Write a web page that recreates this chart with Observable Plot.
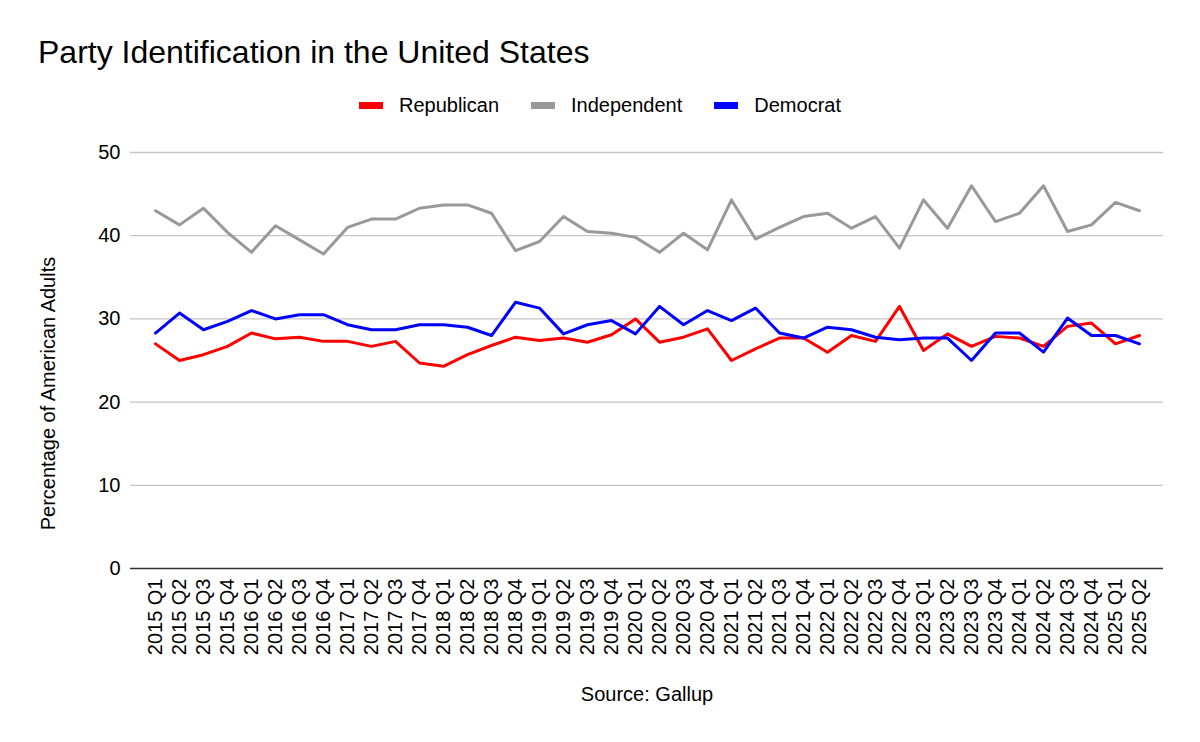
<!DOCTYPE html>
<html>
<head>
<meta charset="utf-8">
<script src="https://cdn.jsdelivr.net/npm/d3@7"></script>
<script src="https://cdn.jsdelivr.net/npm/@observablehq/plot@0.6"></script>
<style>
  body { margin: 0; background: #fff; font-family: "Liberation Sans", Arial, sans-serif; }
  #wrap { position: relative; width: 1200px; height: 742px; overflow: hidden; }
  #title { position: absolute; left: 38px; top: 36px; font-size: 32px; line-height: 32px; color: #000; white-space: nowrap; }
  #legend { position: absolute; left: 0; width: 1200px; top: 95px; display: flex; justify-content: center; font-size: 20px; line-height: 20px; color: #000; }
  .item { display: flex; align-items: center; margin: 0 16px; }
  .sw { width: 24px; height: 7px; margin-right: 16px; }
  #chart { position: absolute; left: 0; top: 130px; }
</style>
</head>
<body>
<div id="wrap">
  <div id="title">Party Identification in the United States</div>
  <div id="legend"></div>
  <div id="chart"></div>
</div>
<script>
const quarters = [
  "2015 Q1","2015 Q2","2015 Q3","2015 Q4",
  "2016 Q1","2016 Q2","2016 Q3","2016 Q4",
  "2017 Q1","2017 Q2","2017 Q3","2017 Q4",
  "2018 Q1","2018 Q2","2018 Q3","2018 Q4",
  "2019 Q1","2019 Q2","2019 Q3","2019 Q4",
  "2020 Q1","2020 Q2","2020 Q3","2020 Q4",
  "2021 Q1","2021 Q2","2021 Q3","2021 Q4",
  "2022 Q1","2022 Q2","2022 Q3","2022 Q4",
  "2023 Q1","2023 Q2","2023 Q3","2023 Q4",
  "2024 Q1","2024 Q2","2024 Q3","2024 Q4",
  "2025 Q1","2025 Q2"
];

const republican = [
  27.0, 25.0, 25.7, 26.7,
  28.3, 27.6, 27.8, 27.3,
  27.3, 26.7, 27.3, 24.7,
  24.3, 25.7, 26.8, 27.8,
  27.4, 27.7, 27.2, 28.1,
  30.0, 27.2, 27.8, 28.8,
  25.0, 26.4, 27.7, 27.7,
  26.0, 28.0, 27.3, 31.5,
  26.2, 28.2, 26.7, 27.9,
  27.7, 26.7, 29.1, 29.5,
  27.0, 28.0
];

const independent = [
  43.0, 41.3, 43.3, 40.4,
  38.0, 41.2, 39.5, 37.8,
  41.0, 42.0, 42.0, 43.3,
  43.7, 43.7, 42.7, 38.2,
  39.3, 42.3, 40.5, 40.3,
  39.8, 38.0, 40.3, 38.3,
  44.3, 39.6, 41.0, 42.3,
  42.7, 40.9, 42.3, 38.5,
  44.3, 40.9, 46.0, 41.7,
  42.7, 46.0, 40.5, 41.3,
  44.0, 43.0
];

const democrat = [
  28.3, 30.7, 28.7, 29.7,
  31.0, 30.0, 30.5, 30.5,
  29.3, 28.7, 28.7, 29.3,
  29.3, 29.0, 28.0, 32.0,
  31.3, 28.2, 29.3, 29.8,
  28.2, 31.5, 29.3, 31.0,
  29.8, 31.3, 28.3, 27.7,
  29.0, 28.7, 27.8, 27.5,
  27.7, 27.7, 25.0, 28.3,
  28.3, 26.0, 30.1, 28.0,
  28.0, 27.0
];

const parties = ["Republican", "Independent", "Democrat"];
const partyColors = ["#ff0000", "#999999", "#0000ff"];
const yTicks = [0, 10, 20, 30, 40, 50];
const yLabel = "Percentage of American Adults";
const xLabel = "Source: Gallup";

const seriesValues = [republican, independent, democrat];
const rows = [];
parties.forEach((p, k) => {
  quarters.forEach((q, i) => rows.push({quarter: q, party: p, value: seriesValues[k][i]}));
});

// legend
const legend = document.getElementById("legend");
parties.forEach((p, k) => {
  const item = document.createElement("div");
  item.className = "item";
  const sw = document.createElement("div");
  sw.className = "sw";
  sw.style.background = partyColors[k];
  const t = document.createElement("span");
  t.textContent = p;
  item.appendChild(sw);
  item.appendChild(t);
  legend.appendChild(item);
});

const chart = Plot.plot({
  width: 1200,
  height: 612,
  marginTop: 22,
  marginBottom: 174,
  marginLeft: 130,
  marginRight: 37,
  style: { fontFamily: "'Liberation Sans', Arial, sans-serif", fontSize: "20px", color: "#000", background: "#fff", overflow: "visible" },
  x: { type: "point", domain: quarters, padding: 0.5, label: null },
  y: { domain: [0, 50], label: null },
  color: { domain: parties, range: partyColors },
  marks: [
    Plot.gridY({ ticks: yTicks.filter(d => d > 0), stroke: "#c6c6c6", strokeOpacity: 1, strokeWidth: 1.3 }),
    Plot.ruleY([0], { stroke: "#333", strokeWidth: 1.6 }),
    Plot.axisY({ ticks: yTicks, tickSize: 0, tickPadding: 10, label: null, fontSize: 20 }),
    Plot.axisX({ tickSize: 0, tickPadding: 10, tickRotate: -90, label: null, fontSize: 20 }),
    Plot.lineY(rows, { x: "quarter", y: "value", z: "party", stroke: "party", strokeWidth: 3, strokeLinejoin: "round", strokeLinecap: "round" }),
    Plot.text([yLabel], { text: d => d, frameAnchor: "left", textAnchor: "middle", dx: -82, dy: 33, rotate: -90, fontSize: 20, fill: "#000" }),
    Plot.text([xLabel], { text: d => d, frameAnchor: "bottom", dy: 132, lineAnchor: "bottom", fontSize: 20, fill: "#000" })
  ]
});
document.getElementById("chart").appendChild(chart);
</script>
</body>
</html>
